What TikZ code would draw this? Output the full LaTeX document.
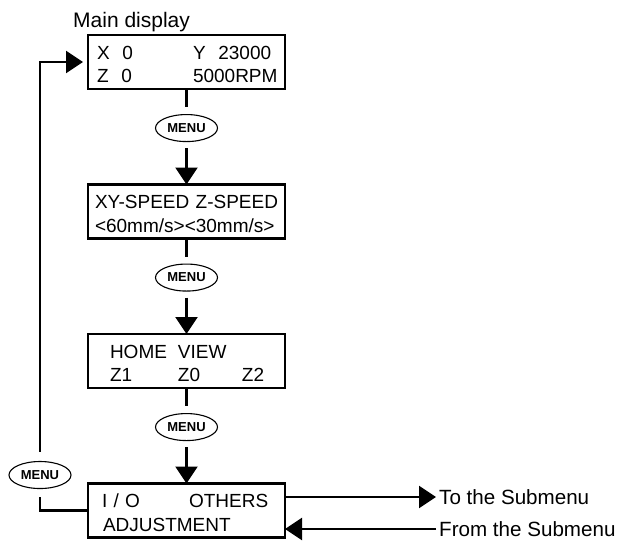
\documentclass[tikz,border=0pt]{standalone}
\usepackage{fontspec}
\setmainfont{Liberation Sans}
\usetikzlibrary{arrows.meta,positioning,shapes.geometric}
\setlength\parindent{0pt}
\newcommand\lcdtext[1]{\raisebox{-4.5pt}[\height][\depth]{#1}}

\begin{document}
\begin{tikzpicture}[x=1pt,y=1pt,>={Triangle[length=17pt,width=22pt]},node distance=95.5pt,
 disp/.style={draw,line width=2.8pt,outer sep=0pt,minimum width=197pt,minimum height=54pt,inner xsep=7pt,inner ysep=0pt,text width=183pt,align=left,font=\fontsize{19}{23.5}\selectfont},
 menu/.style={draw,ellipse,line width=1.1pt,minimum width=62pt,minimum height=27pt,inner sep=0pt,font=\fontsize{13}{13}\selectfont\bfseries},
 link/.style={line width=2.4pt},
 lbl/.style={font=\fontsize{20.6}{21}\selectfont,inner sep=3pt}]
\useasboundingbox (0,0) rectangle (623,-542);
% display boxes
\node[disp](main) at (186.5,-62){\lcdtext{\begin{tabular}{@{\hspace{2pt}}p{96pt}@{}l@{}}X~~0&Y~~23000\\Z~~0&5000RPM\end{tabular}}};
\node[disp,below=of main](speed){\lcdtext{\begin{tabular}{@{}l@{}}XY-SPEED Z-SPEED\\<60mm/s><30mm/s>\end{tabular}}};
\node[disp,below=of speed](home){\lcdtext{\begin{tabular}{@{\hspace{15pt}}p{68pt}@{}p{64pt}@{}l@{}}HOME&VIEW&\\Z1&Z0&Z2\end{tabular}}};
\node[disp,below=of home](io){\lcdtext{\begin{tabular}{@{\hspace{7pt}}p{87pt}@{}l@{}}I / O&OTHERS\\\multicolumn{2}{@{\hspace{8pt}}l@{}}{ADJUSTMENT}\end{tabular}}};
\node[anchor=base west,inner sep=0pt,font=\fontsize{21}{22}\selectfont](title) at ([shift={(-15pt,8pt)}]main.north west){Main display};
% menu keys
\node[menu,below=25pt of main](m1){MENU};
\node[menu,below=25pt of speed](m2){MENU};
\node[menu,below=25pt of home](m3){MENU};
\node[menu](mL) at (40,-475){MENU};
\node[lbl,anchor=west](tosub) at (436,-497){To the Submenu};
\node[lbl,anchor=west](fromsub) at (436,-529){From the Submenu};
% links
\draw[link,shorten >=7pt](main)--(m1);
\draw[link,->,shorten <=6pt](m1)--(speed);
\draw[link,shorten >=7pt](speed)--(m2);
\draw[link,->,shorten <=6pt](m2)--(home);
\draw[link,shorten >=7pt](home)--(m3);
\draw[link,->,shorten <=6pt](m3)--(io);
\draw[link,shorten >=8pt](io.west)-|(mL.south);
\draw[link,->,shorten <=9pt,shorten >=5pt](mL.north)|-(main.west);
\draw[link,->](tosub-|io.east)--(tosub.west);
\draw[link,->](fromsub.west)--(fromsub-|io.east);
\end{tikzpicture}
\end{document}
